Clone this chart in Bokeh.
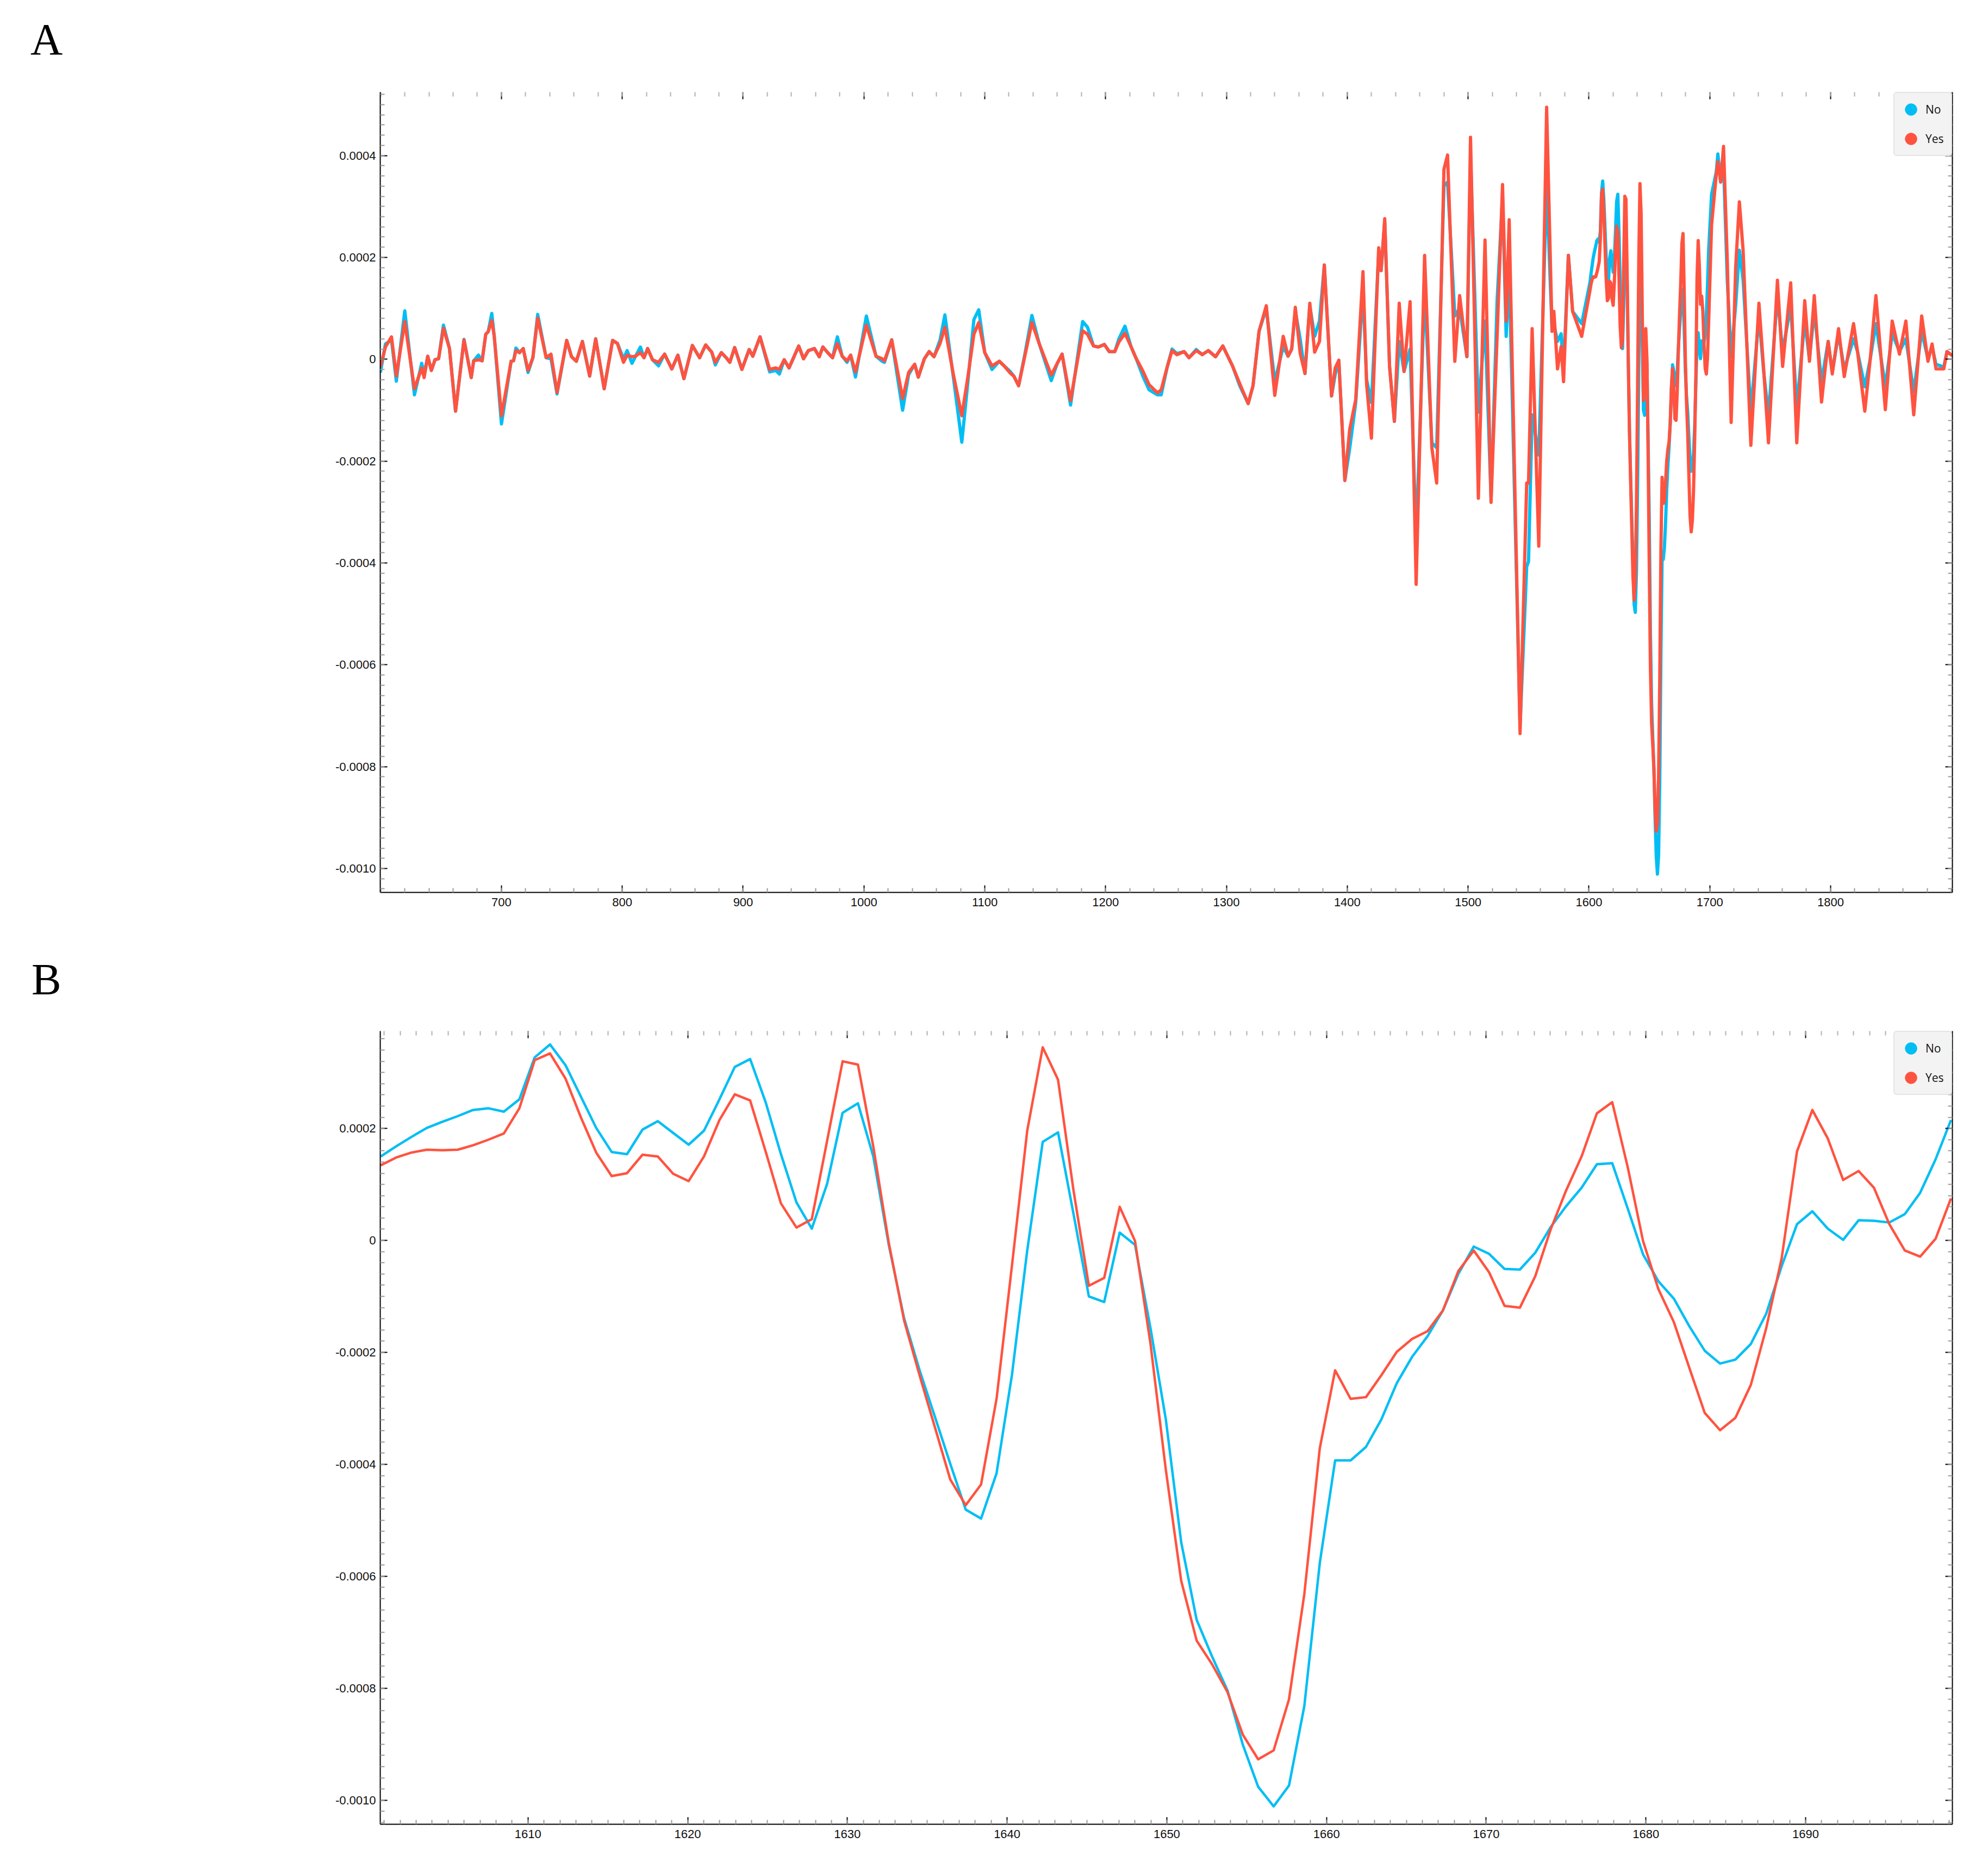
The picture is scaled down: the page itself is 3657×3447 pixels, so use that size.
from bokeh.plotting import figure
from bokeh.models import (Range1d, LinearAxis, FixedTicker, CustomJSTickFormatter,
                          Legend, LegendItem, ColumnDataSource, Div)
from bokeh.layouts import column
from bokeh.embed import file_html
from bokeh.resources import INLINE

SCALE = 1e-4  # values below are in units of 1e-4

# ---------------- Panel B data (1600-1700) ----------------
b_wavenumber = [1600.78, 1601.74, 1602.71, 1603.67, 1604.64, 1605.60, 1606.56, 1607.53, 1608.49, 1609.46,
                1610.42, 1611.38, 1612.35, 1613.31, 1614.27, 1615.24, 1616.20, 1617.17, 1618.13, 1619.09,
                1620.06, 1621.02, 1621.99, 1622.95, 1623.91, 1624.88, 1625.84, 1626.81, 1627.77, 1628.73,
                1629.70, 1630.66, 1631.62, 1632.59, 1633.55, 1634.52, 1635.48, 1636.44, 1637.41, 1638.37,
                1639.34, 1640.30, 1641.26, 1642.23, 1643.19, 1644.16, 1645.12, 1646.08, 1647.05, 1648.01,
                1648.98, 1649.94, 1650.90, 1651.87, 1652.83, 1653.80, 1654.76, 1655.72, 1656.69, 1657.65,
                1658.61, 1659.58, 1660.54, 1661.51, 1662.47, 1663.43, 1664.40, 1665.36, 1666.33, 1667.29,
                1668.25, 1669.22, 1670.18, 1671.15, 1672.11, 1673.07, 1674.04, 1675.00, 1675.97, 1676.93,
                1677.89, 1678.86, 1679.82, 1680.78, 1681.75, 1682.71, 1683.68, 1684.64, 1685.60, 1686.57,
                1687.53, 1688.50, 1689.46, 1690.42, 1691.39, 1692.35, 1693.32, 1694.28, 1695.24, 1696.21,
                1697.17, 1698.14, 1699.10]
b_no = [1.50, 1.68, 1.85, 2.01, 2.12, 2.22, 2.33, 2.36, 2.30, 2.52,
        3.27, 3.50, 3.13, 2.57, 2.01, 1.58, 1.54, 1.98, 2.13, 1.92,
        1.71, 1.96, 2.52, 3.10, 3.24, 2.47, 1.54, 0.68, 0.21, 1.01,
        2.28, 2.45, 1.50, -0.08, -1.39, -2.32, -3.15, -3.99, -4.81, -4.97,
        -4.16, -2.41, -0.18, 1.76, 1.93, 0.47, -1.00, -1.10, 0.14, -0.08,
        -1.57, -3.20, -5.39, -6.78, -7.43, -8.04, -9.01, -9.76, -10.11, -9.74,
        -8.32, -5.76, -3.93, -3.93, -3.69, -3.20, -2.55, -2.08, -1.71, -1.25,
        -0.60, -0.11, -0.24, -0.51, -0.52, -0.22, 0.24, 0.61, 0.94, 1.36,
        1.38, 0.57, -0.25, -0.73, -1.04, -1.53, -1.97, -2.20, -2.13, -1.85,
        -1.31, -0.46, 0.29, 0.52, 0.21, 0.01, 0.36, 0.35, 0.32, 0.47,
        0.85, 1.45, 2.15]
b_yes = [1.34, 1.48, 1.57, 1.62, 1.61, 1.62, 1.70, 1.80, 1.91, 2.36,
         3.22, 3.34, 2.89, 2.20, 1.57, 1.15, 1.20, 1.53, 1.50, 1.19,
         1.06, 1.50, 2.15, 2.61, 2.50, 1.59, 0.66, 0.23, 0.38, 1.78,
         3.20, 3.14, 1.68, -0.04, -1.43, -2.41, -3.34, -4.27, -4.73, -4.36,
         -2.83, -0.46, 1.96, 3.45, 2.87, 0.89, -0.81, -0.67, 0.60, -0.01,
         -1.85, -4.10, -6.08, -7.15, -7.57, -8.07, -8.83, -9.27, -9.11, -8.20,
         -6.32, -3.71, -2.32, -2.83, -2.80, -2.41, -1.99, -1.76, -1.62, -1.25,
         -0.55, -0.18, -0.57, -1.17, -1.20, -0.64, 0.20, 0.89, 1.50, 2.27,
         2.47, 1.31, -0.01, -0.87, -1.46, -2.27, -3.08, -3.39, -3.17, -2.58,
         -1.57, -0.32, 1.59, 2.33, 1.82, 1.08, 1.24, 0.94, 0.29, -0.18,
         -0.29, 0.03, 0.75]

# ---------------- Panel A data outside 1600-1700 ----------------
a_low_wavenumber = [599.8, 604, 609, 613, 620, 628, 634, 636, 639, 642, 645, 648, 652, 657, 662, 669, 675, 677,
                    681, 684, 687, 689, 692, 694, 700, 708, 710, 712, 715, 718, 722, 726, 730, 737, 741, 746,
                    754, 758, 762, 767, 773, 778, 785, 792, 796, 801, 804, 808, 811, 815, 818, 821, 825, 830,
                    835, 841, 846, 851, 858, 864, 869, 874, 877, 882, 886, 889, 893, 899, 905, 908, 914, 922,
                    927, 930, 934, 938, 946, 950, 954, 959, 963, 966, 970, 974, 978, 982, 986, 989, 993, 1002,
                    1010, 1015, 1017, 1023, 1032, 1037, 1042, 1045, 1050, 1054, 1058, 1063, 1067, 1074, 1081,
                    1086, 1091, 1095, 1100, 1106, 1112, 1116, 1121, 1124, 1128, 1133.5, 1139, 1145, 1155, 1160,
                    1164, 1171, 1181, 1185, 1190, 1194, 1199, 1203, 1207.6, 1211, 1216, 1221, 1225, 1231, 1236,
                    1243, 1246, 1251, 1255, 1259, 1265, 1269, 1275, 1280, 1285, 1291, 1297, 1305, 1311, 1318,
                    1322, 1327, 1333, 1340, 1347, 1351, 1354, 1357, 1361, 1365, 1369, 1373, 1377, 1381, 1387,
                    1390, 1393, 1398, 1402, 1407, 1413, 1416, 1420, 1426, 1428, 1431, 1435, 1439, 1443, 1447,
                    1452, 1457, 1464, 1470, 1474, 1480, 1483, 1489, 1493, 1499, 1502, 1508.5, 1514, 1519, 1524,
                    1528.5, 1531.5, 1534, 1543, 1548.5, 1550, 1553, 1558.5, 1565, 1569.5, 1571, 1574, 1577,
                    1579, 1583, 1586.5, 1594]
a_low_yes = [-0.15, 0.24, 0.44, -0.33, 0.74, -0.58, -0.17, -0.36, 0.06, -0.22, -0.01, 0.01, 0.61, 0.21, -1.02,
             0.38, -0.36, -0.03, -0.01, -0.03, 0.49, 0.54, 0.76, 0.46, -1.11, -0.04, -0.03, 0.17, 0.13, 0.21,
             -0.22, 0.03, 0.81, 0.03, 0.10, -0.65, 0.37, 0.05, -0.04, 0.35, -0.33, 0.40, -0.58, 0.37, 0.31,
             -0.06, 0.08, 0.05, 0.06, 0.13, 0.03, 0.21, -0.01, -0.06, 0.10, -0.19, 0.08, -0.38, 0.27, 0.03,
             0.28, 0.14, -0.06, 0.13, 0.03, -0.06, 0.23, -0.20, 0.19, 0.06, 0.44, -0.20, -0.17, -0.20, -0.01,
             -0.17, 0.26, 0.01, 0.17, 0.21, 0.05, 0.24, 0.13, 0.03, 0.31, 0.06, -0.03, 0.08, -0.25, 0.67,
             0.06, 0.01, -0.03, 0.38, -0.77, -0.26, -0.10, -0.35, 0.01, 0.15, 0.05, 0.31, 0.63, -0.30, -1.11,
             -0.35, 0.49, 0.72, 0.13, -0.13, -0.04, -0.13, -0.27, -0.33, -0.52, 0.10, 0.72, 0.31, -0.31, -0.08,
             0.10, -0.81, 0.56, 0.49, 0.26, 0.24, 0.29, 0.15, 0.15, 0.34, 0.51, 0.25, 0.03, -0.24, -0.50,
             -0.66, -0.60, -0.15, 0.17, 0.09, 0.15, 0.03, 0.17, 0.09, 0.17, 0.05, 0.26, -0.13, -0.48, -0.87,
             -0.52, 0.55, 1.05, -0.71, 0.45, 0.06, 0.20, 1.02, 0.12, -0.28, 1.10, 0.14, 0.35, 1.85, -0.72,
             -0.17, -0.02, -2.38, -1.38, -0.79, 1.72, -0.49, -1.55, 2.19, 1.74, 2.76, -0.14, -1.22, 1.10, -0.24,
             1.13, -4.42, 2.04, -1.74, -2.43, 3.73, 4.01, -0.04, 1.25, 0.05, 4.36, -2.73, 2.34, -2.81, 0.45,
             3.43, 0.75, 2.74, -7.35, -2.43, -2.43, 0.60, -3.67, 4.95, 0.55, 0.94, -0.19, 0.25,
             -0.44, 2.04, 0.94, 0.45]
a_low_no = [-0.26, 0.30, 0.38, -0.43, 0.95, -0.70, -0.08, -0.30, 0.06, -0.22, -0.01, 0.01, 0.67, 0.21, -1.02,
            0.39, -0.36, -0.03, 0.08, -0.03, 0.49, 0.54, 0.90, 0.46, -1.27, -0.04, -0.03, 0.22, 0.13, 0.21,
            -0.26, 0.03, 0.88, 0.03, 0.01, -0.68, 0.37, 0.05, -0.04, 0.35, -0.33, 0.40, -0.58, 0.37, 0.31,
            0.01, 0.17, -0.08, 0.06, 0.24, 0.03, 0.21, -0.01, -0.13, 0.10, -0.19, 0.08, -0.38, 0.27, 0.03,
            0.28, 0.14, -0.11, 0.13, 0.03, -0.06, 0.23, -0.20, 0.19, 0.06, 0.44, -0.25, -0.22, -0.29, -0.01,
            -0.17, 0.26, 0.01, 0.17, 0.21, 0.05, 0.24, 0.13, 0.03, 0.44, 0.06, -0.06, 0.08, -0.35, 0.85,
            0.06, -0.04, -0.06, 0.38, -1.00, -0.30, -0.10, -0.35, 0.01, 0.15, 0.05, 0.38, 0.87, -0.35, -1.63,
            -0.45, 0.78, 0.97, 0.13, -0.20, -0.04, -0.13, -0.24, -0.33, -0.52, 0.14, 0.86, 0.31, -0.42, -0.08,
            0.10, -0.90, 0.74, 0.63, 0.26, 0.24, 0.29, 0.15, 0.15, 0.40, 0.65, 0.25, 0.03, -0.34, -0.60,
            -0.70, -0.70, -0.15, 0.20, 0.11, 0.15, 0.03, 0.19, 0.09, 0.17, 0.05, 0.26, -0.13, -0.52, -0.87,
            -0.52, 0.55, 1.00, -0.44, 0.25, 0.06, 0.20, 0.95, 0.40, -0.28, 1.05, 0.45, 0.75, 1.85, -0.72,
            -0.30, -0.02, -2.38, -1.75, -0.85, 1.35, -0.40, -0.85, 2.10, 1.74, 2.70, -0.14, -1.22, 0.35, -0.24,
            0.20, -3.53, 1.35, -1.64, -1.74, 3.40, 3.48, 0.85, 1.00, 0.05, 4.00, -1.04, 0.75, -2.75, 1.15,
            3.20, 0.45, 1.74, -7.20, -4.07, -3.97, -1.09, -1.88, 3.43, 0.55, 0.70, 0.35, 0.50,
            -0.20, 2.04, 0.94, 0.70]

a_high_wavenumber = [1701.5, 1705.4, 1706.7, 1709, 1711.4, 1714.5, 1717.7, 1721.4, 1724.5, 1727.6, 1734,
                     1740.7, 1744.6, 1748.6, 1756, 1760.3, 1767, 1772, 1778.6, 1782.5, 1786.5, 1792.5, 1798,
                     1801.4, 1806.6, 1811.3, 1819, 1822.3, 1828.3, 1832.8, 1837.5, 1845.3, 1851, 1857,
                     1862.3, 1868.8, 1875.4, 1880.6, 1884, 1887.2, 1893.7, 1896.3, 1900.7]
a_high_yes = [2.64, 3.63, 3.88, 3.48, 4.18, 1.94, -1.24, 1.79, 3.09, 2.14, -1.69, 1.10, -0.19, -1.64, 1.55,
              -0.14, 1.50, -1.64, 1.15, -0.04, 1.25, -0.84, 0.35, -0.29, 0.60, -0.34, 0.70, 0.15, -1.02,
              0.00, 1.25, -0.99, 0.75, 0.10, 0.75, -1.09, 0.85, -0.04, 0.30, -0.19, -0.19, 0.15, 0.07]
a_high_no = [3.24, 3.68, 4.03, 3.48, 3.83, 1.55, 0.05, 1.05, 2.14, 1.55, -1.04, 0.85, -0.24, -1.09, 1.25,
             0.15, 1.05, -0.94, 0.75, 0.00, 0.95, -0.44, 0.35, -0.25, 0.50, -0.20, 0.40, 0.15, -0.54,
             0.00, 0.70, -0.54, 0.50, 0.15, 0.40, -0.64, 0.55, 0.00, 0.25, -0.10, -0.15, 0.15, 0.07]

# tick positions
a_x_major = [700, 800, 900, 1000, 1100, 1200, 1300, 1400, 1500, 1600, 1700, 1800]
a_y_major = [-0.0010, -0.0008, -0.0006, -0.0004, -0.0002, 0.0, 0.0002, 0.0004]
b_x_major = [1610, 1620, 1630, 1640, 1650, 1660, 1670, 1680, 1690]
b_y_major = [-0.0010, -0.0008, -0.0006, -0.0004, -0.0002, 0.0, 0.0002]

series_labels = ["No", "Yes"]
panel_letters = ["A", "B"]

BLUE = "#00BEF4"
RED = "#FF5340"
WIDTH = 3641


def build_source(xs_list, yes_list, no_list):
    xs, yes, no = [], [], []
    for a, b, c in zip(xs_list, yes_list, no_list):
        xs += a
        yes += [v * SCALE for v in b]
        no += [v * SCALE for v in c]
    return ColumnDataSource(dict(x=xs, yes=yes, no=no))


src_a = build_source([a_low_wavenumber, b_wavenumber, a_high_wavenumber],
                     [a_low_yes, b_yes, a_high_yes], [a_low_no, b_no, a_high_no])
src_b = build_source([b_wavenumber], [b_yes], [b_no])

y_fmt_code = "if (Math.abs(tick) < 1e-12) { return '0'; } return tick.toFixed(4);"


def style_axis(ax, ticks, minor, labels=True, line=True, fmt=None):
    ax.ticker = FixedTicker(ticks=ticks, minor_ticks=minor)
    ax.axis_line_color = "black" if line else None
    ax.axis_line_width = 2
    ax.major_tick_in = 13
    ax.major_tick_out = 0
    ax.minor_tick_in = 8
    ax.minor_tick_out = 0
    ax.major_tick_line_color = "black"
    ax.major_tick_line_width = 2
    ax.minor_tick_line_color = "#9c9c9c"
    ax.minor_tick_line_width = 2
    ax.major_label_text_font = "Liberation Sans"
    ax.major_label_text_font_size = "22px"
    ax.major_label_text_color = "#111111"
    if labels:
        if fmt is not None:
            ax.formatter = fmt
    else:
        ax.formatter = CustomJSTickFormatter(code="return '';")
        ax.major_label_text_font_size = "0px"
        ax.major_label_standoff = 0


def letter_strip(letter, height, left_px, top_px):
    """A strip above a panel that carries the panel letter (serif, large)."""
    html = ('<div style="position:relative; left:%dpx; top:%dpx; margin:0; padding:0; '
            'font-family:\'Liberation Serif\', serif; font-size:82px; line-height:82px; '
            'color:#000; white-space:nowrap;">%s</div>' % (left_px, top_px, letter))
    return Div(text=html, width=WIDTH, height=height, margin=0)


def make_panel(src, height, borders, xr, yr, xmaj, xmin_, ymaj, ymin_, lw):
    p = figure(width=WIDTH, height=height, x_range=Range1d(*xr), y_range=Range1d(*yr),
               output_backend="svg", toolbar_location=None, title=None,
               min_border_left=borders[0], min_border_right=borders[1],
               min_border_top=borders[2], min_border_bottom=borders[3])
    p.outline_line_color = None
    p.xgrid.visible = False
    p.ygrid.visible = False
    p.background_fill_color = "white"
    p.border_fill_color = "white"

    bottom = p.xaxis[0]
    left = p.yaxis[0]
    style_axis(bottom, xmaj, xmin_)
    bottom.major_label_standoff = 10
    style_axis(left, ymaj, ymin_, fmt=CustomJSTickFormatter(code=y_fmt_code))
    left.major_label_standoff = 8

    top = LinearAxis()
    style_axis(top, xmaj, xmin_, labels=False, line=False)
    top.minor_tick_line_color = "#b0b0b0"
    p.add_layout(top, "above")
    right = LinearAxis()
    style_axis(right, ymaj, ymin_, labels=False, line=True)
    p.add_layout(right, "right")

    p.line(x="x", y="no", source=src, line_color=BLUE, line_width=lw, line_join="round")
    p.line(x="x", y="yes", source=src, line_color=RED, line_width=lw, line_join="round")

    # hidden one-point scatter renderers, used only to draw round legend swatches
    first = dict(x=[src.data["x"][0]], no=[src.data["no"][0]], yes=[src.data["yes"][0]])
    leg_src = ColumnDataSource(first)
    leg_no = p.scatter(x="x", y="no", source=leg_src, marker="circle", size=20,
                       fill_color=BLUE, line_color=BLUE, visible=False)
    leg_yes = p.scatter(x="x", y="yes", source=leg_src, marker="circle", size=20,
                        fill_color=RED, line_color=RED, visible=False)
    legend = Legend(items=[LegendItem(label=series_labels[0], renderers=[leg_no]),
                           LegendItem(label=series_labels[1], renderers=[leg_yes])],
                    location="top_right")
    legend.margin = 0
    legend.padding = 3
    legend.spacing = -7
    legend.glyph_width = 54
    legend.glyph_height = 54
    legend.label_standoff = -6
    legend.label_width = 44
    legend.label_text_font = "Open Sans"
    legend.label_text_font_size = "21px"
    legend.label_text_color = "#111111"
    legend.background_fill_color = "#f3f3f3"
    legend.background_fill_alpha = 1.0
    legend.border_line_color = "#d6d6d6"
    legend.border_line_width = 2
    try:
        legend.border_radius = 6
    except Exception:
        pass
    p.add_layout(legend)
    return p


a_minor_x = [600 + 20 * k for k in range(66)]
a_minor_y = [round(-0.00104 + 0.00002 * k, 6) for k in range(79)]
b_minor_x = [1601 + k for k in range(99)]
b_minor_y = [round(-0.00104 + 0.00002 * k, 6) for k in range(71)]

STRIP_A = 120
STRIP_B = 110
sA = letter_strip(panel_letters[0], STRIP_A, 56, 32)
pA = make_panel(src_a, 1752 - STRIP_A, (683, 37, 169 - STRIP_A, 111),
                (599.7, 1900.8), (-0.001047, 0.0005245),
                a_x_major, a_minor_x, a_y_major, a_minor_y, 6)
sB = letter_strip(panel_letters[1], STRIP_B, 58, 9)
pB = make_panel(src_b, 1687 - STRIP_B, (699, 50, 144 - STRIP_B, 84),
                (1600.75, 1699.19), (-0.001043, 0.000374),
                b_x_major, b_minor_x, b_y_major, b_minor_y, 4.5)

layout = column(sA, pA, sB, pB, spacing=0)
open("out.html", "w").write(file_html(layout, INLINE))
